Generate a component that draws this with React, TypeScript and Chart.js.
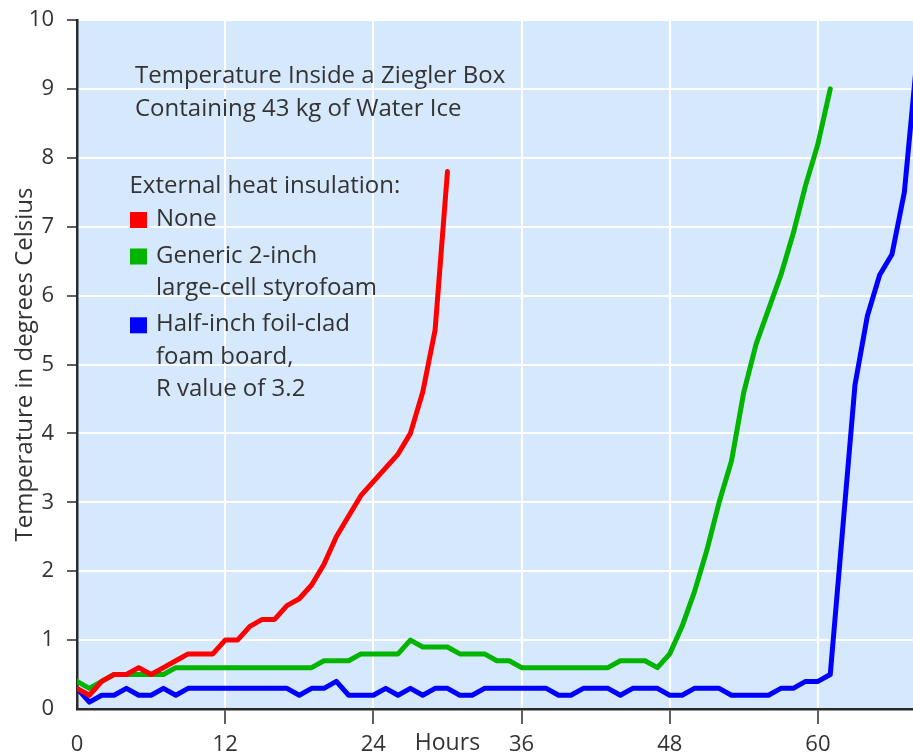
import React, { useEffect, useRef } from "react";
import { Chart, registerables } from "chart.js";

Chart.register(...registerables);

// ---- data (hourly readings) ----
const HOURS = [
  0, 1, 2, 3, 4, 5, 6, 7, 8, 9, 10, 11, 12, 13, 14, 15, 16, 17, 18, 19, 20, 21, 22, 23,
  24, 25, 26, 27, 28, 29, 30, 31, 32, 33, 34, 35, 36, 37, 38, 39, 40, 41, 42, 43, 44, 45,
  46, 47, 48, 49, 50, 51, 52, 53, 54, 55, 56, 57, 58, 59, 60, 61, 62, 63, 64, 65, 66, 67, 68,
];

const NONE_TEMPS = [
  0.3, 0.2, 0.4, 0.5, 0.5, 0.6, 0.5, 0.6, 0.7, 0.8, 0.8, 0.8, 1.0, 1.0, 1.2, 1.3, 1.3, 1.5,
  1.6, 1.8, 2.1, 2.5, 2.8, 3.1, 3.3, 3.5, 3.7, 4.0, 4.6, 5.5, 7.8,
];

const STYROFOAM_TEMPS = [
  0.4, 0.3, 0.4, 0.5, 0.5, 0.5, 0.5, 0.5, 0.6, 0.6, 0.6, 0.6, 0.6, 0.6, 0.6, 0.6, 0.6, 0.6,
  0.6, 0.6, 0.7, 0.7, 0.7, 0.8, 0.8, 0.8, 0.8, 1.0, 0.9, 0.9, 0.9, 0.8, 0.8, 0.8, 0.7, 0.7,
  0.6, 0.6, 0.6, 0.6, 0.6, 0.6, 0.6, 0.6, 0.7, 0.7, 0.7, 0.6, 0.8, 1.2, 1.7, 2.3, 3.0, 3.6,
  4.6, 5.3, 5.8, 6.3, 6.9, 7.6, 8.2, 9.0,
];

const FOIL_BOARD_TEMPS = [
  0.3, 0.1, 0.2, 0.2, 0.3, 0.2, 0.2, 0.3, 0.2, 0.3, 0.3, 0.3, 0.3, 0.3, 0.3, 0.3, 0.3, 0.3,
  0.2, 0.3, 0.3, 0.4, 0.2, 0.2, 0.2, 0.3, 0.2, 0.3, 0.2, 0.3, 0.3, 0.2, 0.2, 0.3, 0.3, 0.3,
  0.3, 0.3, 0.3, 0.2, 0.2, 0.3, 0.3, 0.3, 0.2, 0.3, 0.3, 0.3, 0.2, 0.2, 0.3, 0.3, 0.3, 0.2,
  0.2, 0.2, 0.2, 0.3, 0.3, 0.4, 0.4, 0.5, 2.6, 4.7, 5.7, 6.3, 6.6, 7.5, 9.4,
];

const X_TICKS = [0, 12, 24, 36, 48, 60];
const Y_TICKS = [0, 1, 2, 3, 4, 5, 6, 7, 8, 9, 10];

const SERIES_LABELS = [
  "None",
  "Generic 2-inch\nlarge-cell styrofoam",
  "Half-inch foil-clad\nfoam board,\nR value of 3.2",
];
const SERIES_COLORS = ["#ff0000", "#00b400", "#0000ff"];

const TITLE_LINES = ["Temperature Inside a Ziegler Box", "Containing 43 kg of Water Ice"];
const LEGEND_HEADING = "External heat insulation:";
const X_TITLE = "Hours";
const X_TITLE_AT = 30;
const Y_TITLE = "Temperature in degrees Celsius";

// ---- styling ----
const FONT = '"Open Sans", "Liberation Sans", sans-serif';
const TEXT_COLOR = "#333333";
const AXIS_COLOR = "#2a2a2a";
const PLOT_BG = "#d6e8fb";

const decorPlugin = {
  id: "decor",
  beforeDraw(chart: any) {
    const { ctx, chartArea } = chart;
    ctx.save();
    ctx.fillStyle = PLOT_BG;
    ctx.fillRect(chartArea.left, chartArea.top, chartArea.right - chartArea.left, chartArea.bottom - chartArea.top);
    ctx.restore();
  },
  afterDraw(chart: any) {
    const { ctx } = chart;
    ctx.save();
    ctx.fillStyle = TEXT_COLOR;
    ctx.textAlign = "left";
    ctx.textBaseline = "alphabetic";
    ctx.font = `24px ${FONT}`;

    TITLE_LINES.forEach((line, i) => ctx.fillText(line, 135, 83 + i * 33));

    ctx.fillText(LEGEND_HEADING, 129.5, 193);
    let y = 226;
    SERIES_LABELS.forEach((label, i) => {
      const lines = label.split("\n");
      ctx.fillStyle = SERIES_COLORS[i];
      ctx.fillRect(130, y - 14, 17, 16);
      ctx.fillStyle = TEXT_COLOR;
      lines.forEach((ln, j) => ctx.fillText(ln, 156, y + j * 32.3));
      y += (lines.length - 1) * 32.3 + 36.5;
    });

    const xs = chart.scales.x;
    ctx.textAlign = "center";
    ctx.font = `23px ${FONT}`;
    ctx.fillText(X_TITLE, xs.getPixelForValue(X_TITLE_AT), 750);
    ctx.restore();
  },
};

export default function App() {
  const canvasRef = useRef<HTMLCanvasElement | null>(null);

  useEffect(() => {
    const canvas = canvasRef.current;
    if (!canvas) return;
    const series = [NONE_TEMPS, STYROFOAM_TEMPS, FOIL_BOARD_TEMPS];
    const chart = new Chart(canvas, {
      type: "line",
      data: {
        datasets: series.map((vals, i) => ({
          label: SERIES_LABELS[i],
          data: vals.map((v, k) => ({ x: HOURS[k], y: v })),
          borderColor: SERIES_COLORS[i],
          backgroundColor: SERIES_COLORS[i],
          borderWidth: 5,
          pointRadius: 0,
          tension: 0,
          borderJoinStyle: "round",
          borderCapStyle: "round",
          fill: false,
        })),
      },
      options: {
        animation: false,
        responsive: true,
        maintainAspectRatio: false,
        layout: { padding: { top: 20, left: 0, right: 0, bottom: 0 } },
        plugins: {
          legend: { display: false },
          tooltip: { enabled: false },
          title: { display: false },
        },
        scales: {
          x: {
            type: "linear",
            min: 0,
            max: 67.7,
            afterBuildTicks: (s: any) => {
              s.ticks = X_TICKS.map((v) => ({ value: v }));
            },
            afterFit: (s: any) => {
              s.height = 46;
              s.paddingLeft = 0;
              s.paddingRight = 0;
            },
            grid: {
              color: "#ffffff",
              lineWidth: 2,
              tickLength: 15,
              tickColor: (c: any) => (c.tick && c.tick.value === 0 ? "rgba(0,0,0,0)" : AXIS_COLOR),
              tickWidth: 1.5,
            },
            border: { color: AXIS_COLOR, width: 2.5 },
            ticks: {
              color: TEXT_COLOR,
              font: { family: FONT, size: 22 },
              padding: 8,
              maxRotation: 0,
              autoSkip: false,
              callback: (v: any) => String(v),
            },
          },
          y: {
            type: "linear",
            min: 0,
            max: 10,
            afterBuildTicks: (s: any) => {
              s.ticks = Y_TICKS.map((v) => ({ value: v }));
            },
            afterFit: (s: any) => {
              s.width = 77;
              s.paddingTop = 0;
              s.paddingBottom = 0;
            },
            grid: {
              color: "#ffffff",
              lineWidth: 2,
              tickLength: 10,
              tickColor: (c: any) => (c.tick && c.tick.value === 0 ? "rgba(0,0,0,0)" : AXIS_COLOR),
              tickWidth: 1.5,
            },
            border: { color: AXIS_COLOR, width: 2.5 },
            ticks: {
              color: TEXT_COLOR,
              font: { family: FONT, size: 22 },
              padding: 13,
              autoSkip: false,
              callback: (v: any) => String(v),
            },
            title: {
              display: true,
              text: Y_TITLE,
              color: TEXT_COLOR,
              font: { family: FONT, size: 24 },
              padding: { top: 11, bottom: 0 },
            },
          },
        },
      },
      plugins: [decorPlugin],
    } as any);
    return () => chart.destroy();
  }, []);

  return (
    <div style={{ position: "absolute", left: 0, top: 0, width: 913, height: 755, background: "#ffffff" }}>
      <canvas ref={canvasRef} />
    </div>
  );
}
